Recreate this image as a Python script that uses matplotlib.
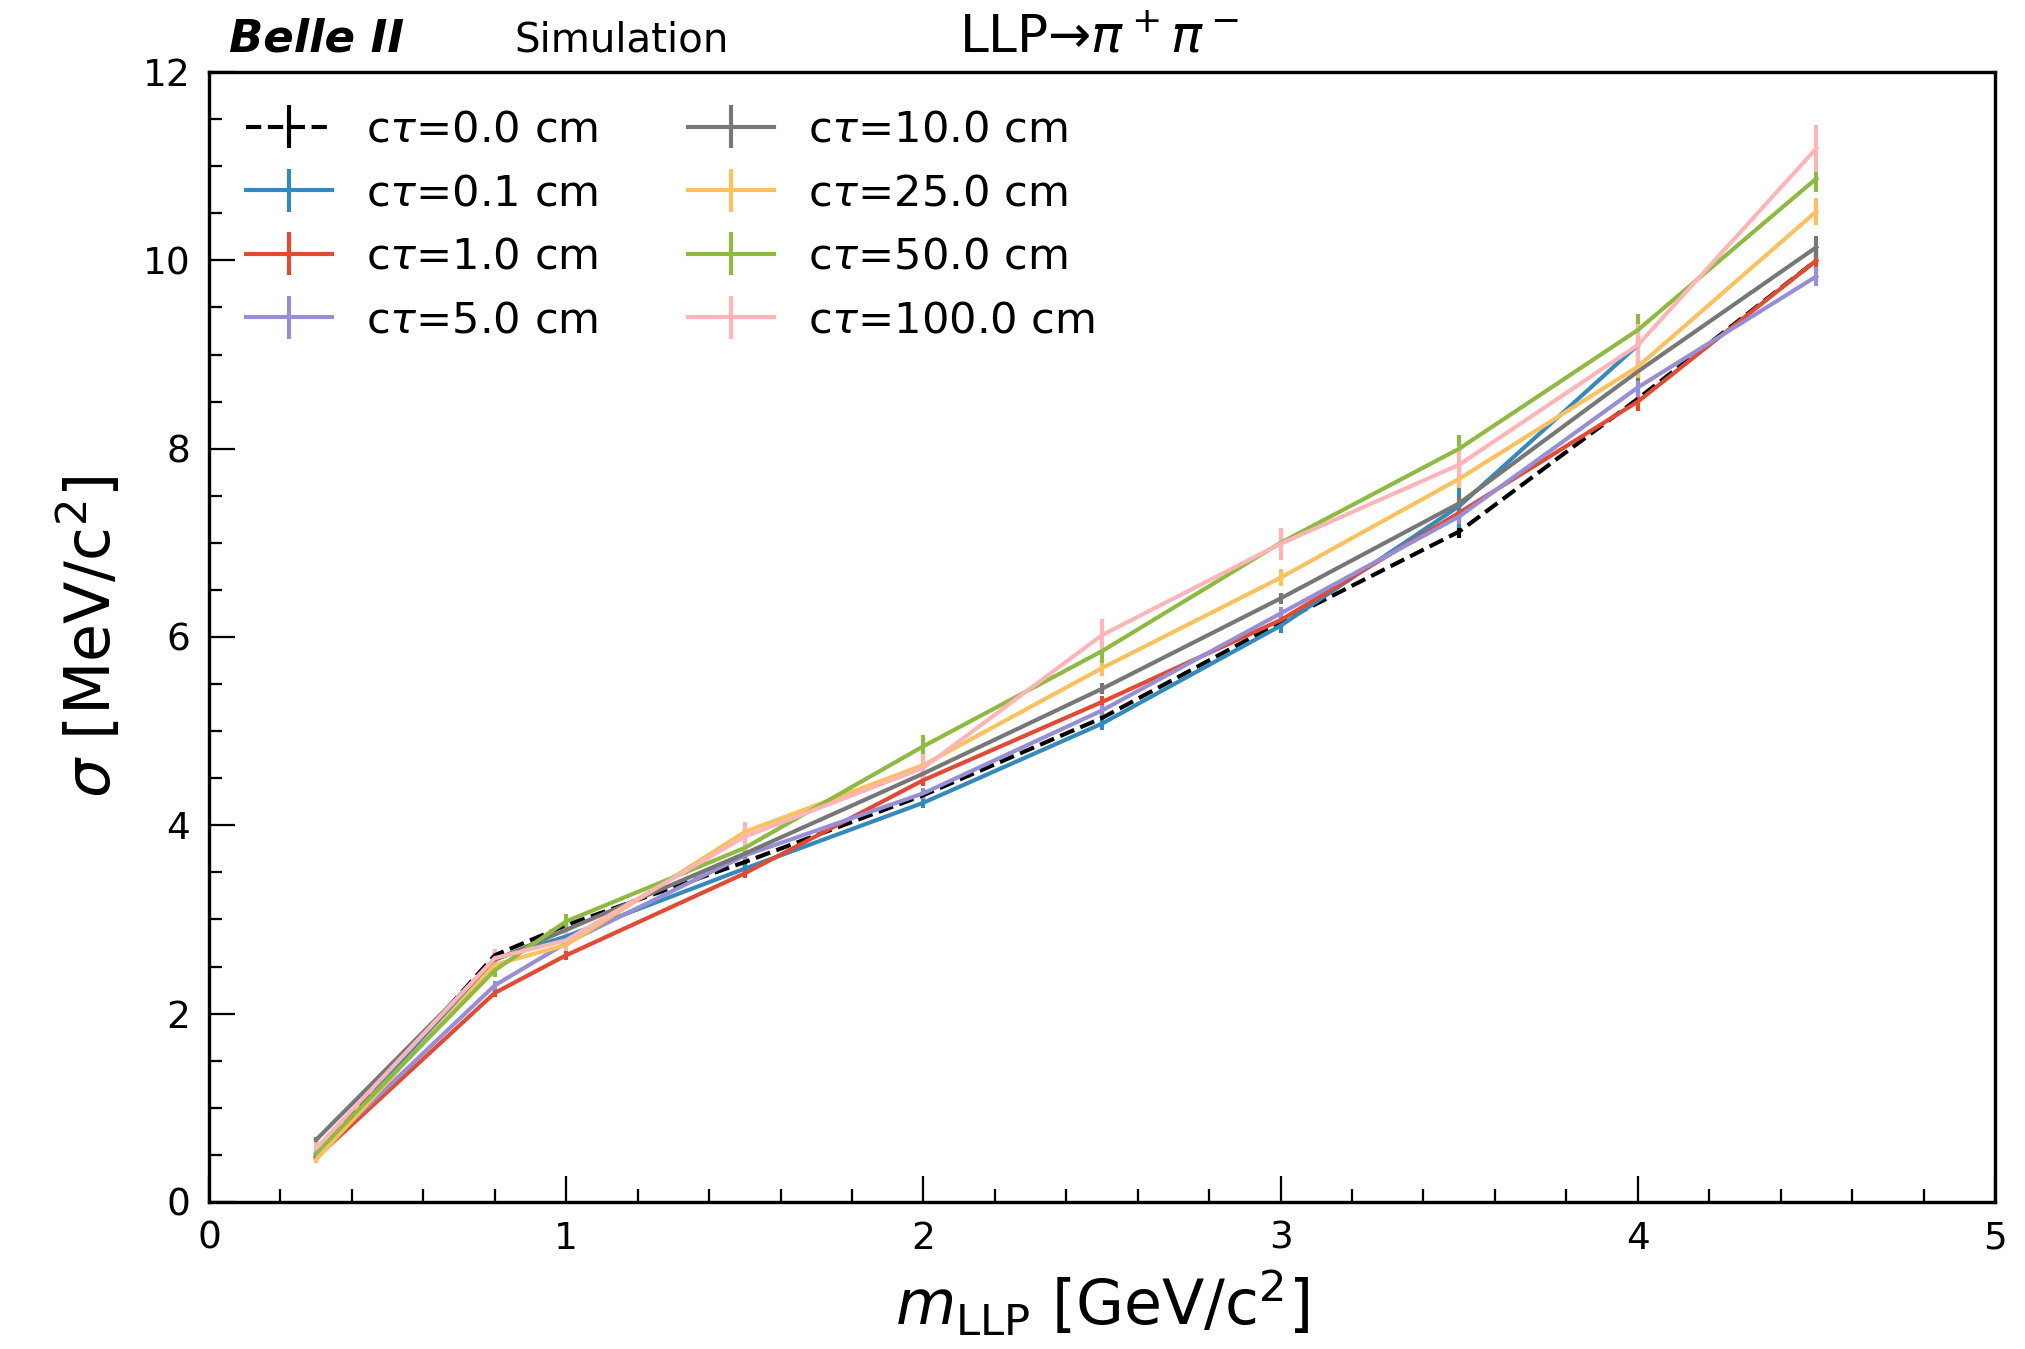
import matplotlib.pyplot as plt
import numpy as np

# LLP mass points [GeV/c^2]
masses = [0.3, 0.8, 1.0, 1.5, 2.0, 2.5, 3.0, 3.5, 4.0, 4.5]

ctau_labels = ['0.0', '0.1', '1.0', '5.0', '10.0', '25.0', '50.0', '100.0']

sigma_00 = [0.50, 2.62, 2.94, 3.61, 4.32, 5.14, 6.16, 7.12, 8.53, 10.00]
sigma_01 = [0.48, 2.58, 2.82, 3.54, 4.24, 5.08, 6.12, 7.39, 9.10, np.nan]
sigma_1 = [0.47, 2.22, 2.62, 3.49, 4.48, 5.31, 6.18, 7.32, 8.50, 10.00]
sigma_5 = [0.50, 2.30, 2.75, 3.68, 4.34, 5.22, 6.25, 7.28, 8.65, 9.83]
sigma_10 = [0.66, 2.57, 2.89, 3.70, 4.55, 5.45, 6.41, 7.42, 8.82, 10.14]
sigma_25 = [0.45, 2.52, 2.73, 3.93, 4.64, 5.67, 6.63, 7.68, 8.87, 10.52]
sigma_50 = [0.52, 2.46, 2.98, 3.76, 4.84, 5.85, 7.00, 8.00, 9.26, 10.87]
sigma_100 = [0.57, 2.59, 2.78, 3.88, 4.61, 6.02, 6.99, 7.83, 9.10, 11.19]

err_00 = [0.03, 0.04, 0.04, 0.05, 0.05, 0.05, 0.06, 0.07, 0.08, 0.10]
err_01 = [0.03, 0.05, 0.05, 0.05, 0.06, 0.07, 0.08, 0.23, 0.28, np.nan]
err_1 = [0.03, 0.04, 0.05, 0.05, 0.06, 0.06, 0.07, 0.08, 0.10, 0.12]
err_5 = [0.03, 0.05, 0.05, 0.05, 0.06, 0.06, 0.07, 0.08, 0.10, 0.10]
err_10 = [0.03, 0.04, 0.05, 0.05, 0.05, 0.06, 0.06, 0.08, 0.10, 0.12]
err_25 = [0.04, 0.05, 0.06, 0.07, 0.07, 0.08, 0.09, 0.10, 0.12, 0.14]
err_50 = [0.05, 0.07, 0.08, 0.10, 0.12, 0.13, 0.14, 0.15, 0.17, 0.14]
err_100 = [0.07, 0.10, 0.12, 0.15, 0.15, 0.17, 0.17, 0.20, 0.22, 0.25]

sigmas = [sigma_00, sigma_01, sigma_1, sigma_5, sigma_10, sigma_25, sigma_50, sigma_100]
errors = [err_00, err_01, err_1, err_5, err_10, err_25, err_50, err_100]
colors = ['k', '#348ABD', '#E24A33', '#988ED5', '#777777', '#FBC15E', '#8EBA42', '#FFB5B8']

fig = plt.figure(figsize=(15, 1349 / 135), dpi=135)
ax = fig.add_axes([0.1032, 0.109, 0.882, 0.8376])

for lab, sig, err, col in zip(ctau_labels, sigmas, errors, colors):
    ls = '--' if lab == '0.0' else '-'
    ax.errorbar(masses, sig, yerr=err, color=col, ls=ls, lw=2.2, elinewidth=2.2,
                label=r'c$\tau$=' + lab + ' cm')

ax.set_xlim(0, 5)
ax.set_ylim(0, 12)
ax.set_xticks(np.arange(0, 5.1, 1))
ax.set_xticks(np.arange(0, 5.01, 0.2), minor=True)
ax.set_yticks(np.arange(0, 12.1, 2))
ax.set_yticks(np.arange(0, 12.01, 0.5), minor=True)
ax.tick_params(which='both', direction='in', top=False, right=False, labelsize=20, width=1.2)
ax.tick_params(which='major', length=14, pad=10)
ax.tick_params(which='minor', length=7)
for sp in ax.spines.values():
    sp.set_linewidth(1.8)

ax.set_xlabel(r'$m_{\rm LLP}$ [GeV/c$^2$]', fontsize=33, labelpad=6)
ax.set_ylabel(r'$\sigma$ [MeV/c$^2$]', fontsize=33, labelpad=10)

ax.legend(loc='upper left', ncol=2, frameon=False, fontsize=23, handlelength=2.0,
          handletextpad=0.78, columnspacing=2.1, labelspacing=0.5, borderaxespad=0.45)

ax.text(0.011, 1.01, 'Belle II', transform=ax.transAxes, fontsize=24,
        fontweight='bold', fontstyle='italic', va='bottom')
ax.text(0.171, 1.01, 'Simulation', transform=ax.transAxes, fontsize=21.5, va='bottom')
ax.text(0.42, 1.008, r'LLP→$\pi^+\pi^-$', transform=ax.transAxes, fontsize=27.5, va='bottom')

fig.savefig('out.png', dpi=135)
